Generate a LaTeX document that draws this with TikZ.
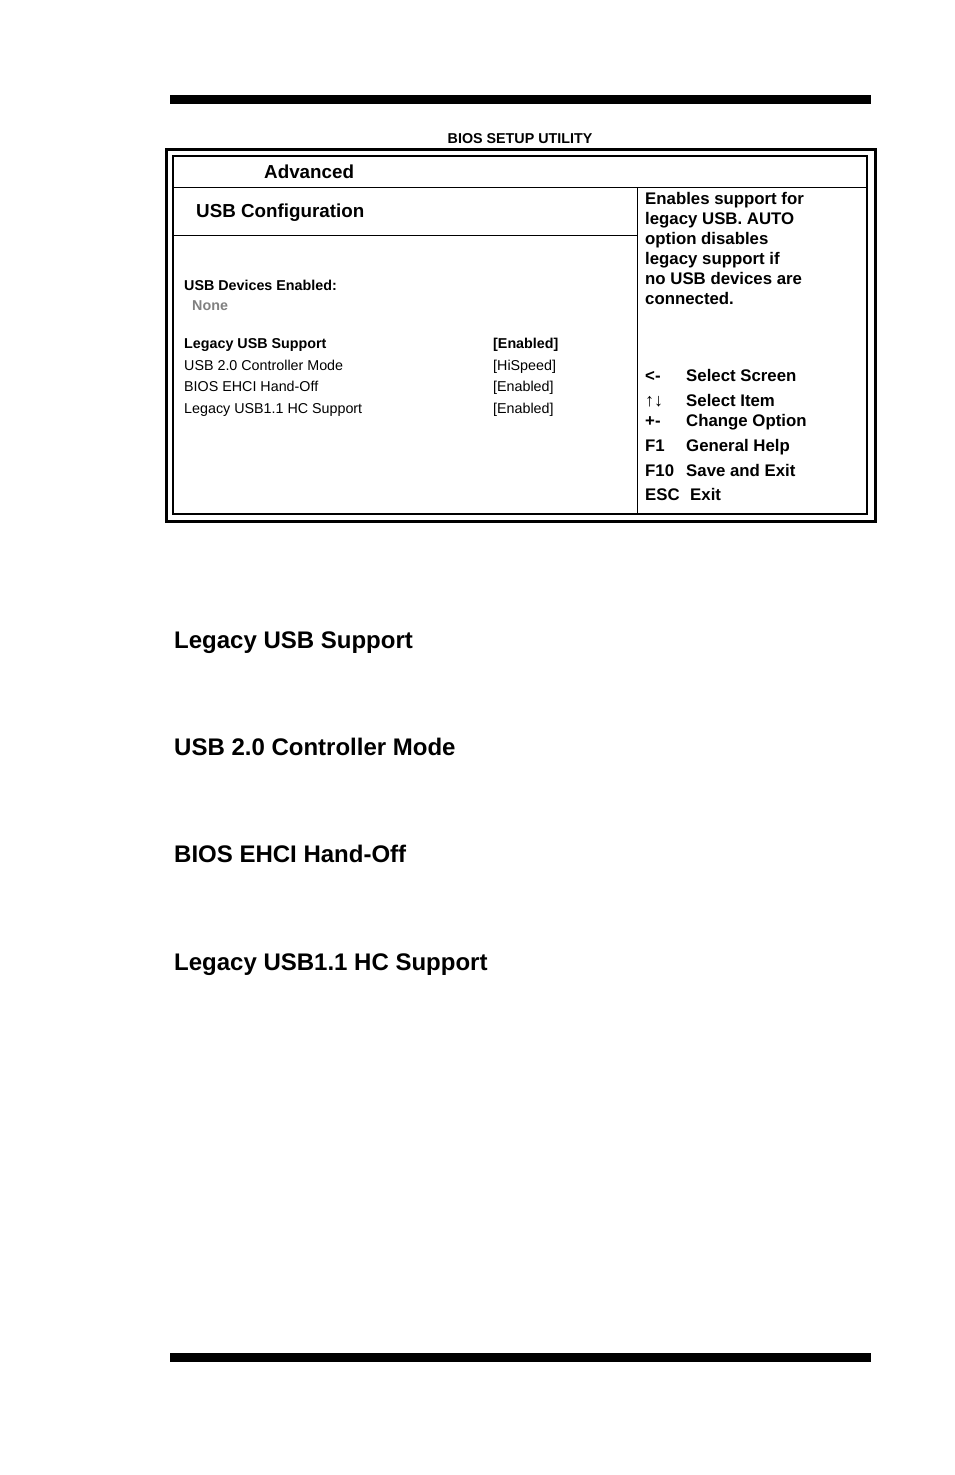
\documentclass[tikz,border=0pt]{standalone}
\usepackage{fontspec}
\setmainfont{Liberation Sans}
\usetikzlibrary{positioning}
\tikzset{
	txt/.style={anchor=base west, inner sep=0pt, font=\fontsize{14.3}{16}\selectfont},
	btxt/.style={txt, font=\fontsize{14.3}{16}\selectfont\bfseries},
	keytxt/.style={anchor=base west, inner sep=0pt, font=\fontsize{16.8}{19}\selectfont\bfseries},
	headtxt/.style={anchor=base west, inner sep=0pt, font=\fontsize{24}{28}\selectfont\bfseries},
	rulebar/.style={fill=black, draw=none}
}
\begin{document}
\begin{tikzpicture}[x=1pt, y=-1pt]
	\useasboundingbox (0,0) rectangle (954,1475);
	% bars
	\fill[rulebar] (170,95) rectangle (871,104);
	\fill[rulebar] (170,1353) rectangle (871,1362);
	% frame
	\node[anchor=base, inner sep=0pt, font=\fontsize{14.3}{16}\selectfont\bfseries] (title) at (520,143) {BIOS SETUP UTILITY};
	\draw[line width=3pt] (166,149) rectangle (875,521);
	\draw[line width=2.5pt] (173,156) rectangle (867,514);
	\draw[line width=1pt] (173,187) -- (867,187);
	\draw[line width=1pt] (637,187) -- (637,514);
	\draw[line width=1pt] (173,235) -- (637,235);
	\node[keytxt, font=\fontsize{18.8}{21}\selectfont\bfseries] (adv) at (264,178) {Advanced};
	\node[keytxt, font=\fontsize{18.8}{21}\selectfont\bfseries] (usbcfg) at (196,217) {USB Configuration};
	% items
	\node[btxt] (devs) at (184,290) {USB Devices Enabled:};
	\node[btxt, text=gray] (none) at (192,310) {None};
	\node[btxt] (leg) at (184,348) {Legacy USB Support};
	\node[txt] (ctrl) at (184,370) {USB 2.0 Controller Mode};
	\node[txt] (ehci) at (184,391) {BIOS EHCI Hand-Off};
	\node[txt] (hc) at (184,413) {Legacy USB1.1 HC Support};
	\node[btxt] (legv) at (493,348) {[Enabled]};
	\node[txt] (ctrlv) at (493,370) {[HiSpeed]};
	\node[txt] (ehciv) at (493,391) {[Enabled]};
	\node[txt] (hcv) at (493,413) {[Enabled]};
	% help
	\node[keytxt, align=left, anchor=north west, font=\fontsize{16.8}{20}\selectfont\bfseries] (help) at (645,192) {Enables support for\\legacy USB. AUTO\\option disables\\legacy support if\\no USB devices are\\connected.};
	\node[keytxt] (k1) at (645,381) {<-};
	\node[keytxt] (d1) at (686,381) {Select Screen};
	\node[keytxt, font=\fontsize{18}{20}\selectfont] (k2) at (645,406) {↑↓};
	\node[keytxt] (d2) at (686,406) {Select Item};
	\node[keytxt] (k3) at (645,426) {+-};
	\node[keytxt] (d3) at (686,426) {Change Option};
	\node[keytxt] (k4) at (645,451) {F1};
	\node[keytxt] (d4) at (686,451) {General Help};
	\node[keytxt] (k5) at (645,476) {F10};
	\node[keytxt] (d5) at (686,476) {Save and Exit};
	\node[keytxt] (k6) at (645,500) {ESC};
	\node[keytxt] (d6) at (690,500) {Exit};
	% headings
	\node[headtxt] (h1) at (174,648) {Legacy USB Support};
	\node[headtxt] (h2) at (174,755) {USB 2.0 Controller Mode};
	\node[headtxt] (h3) at (174,862) {BIOS EHCI Hand-Off};
	\node[headtxt] (h4) at (174,970) {Legacy USB1.1 HC Support};
\end{tikzpicture}
\end{document}
